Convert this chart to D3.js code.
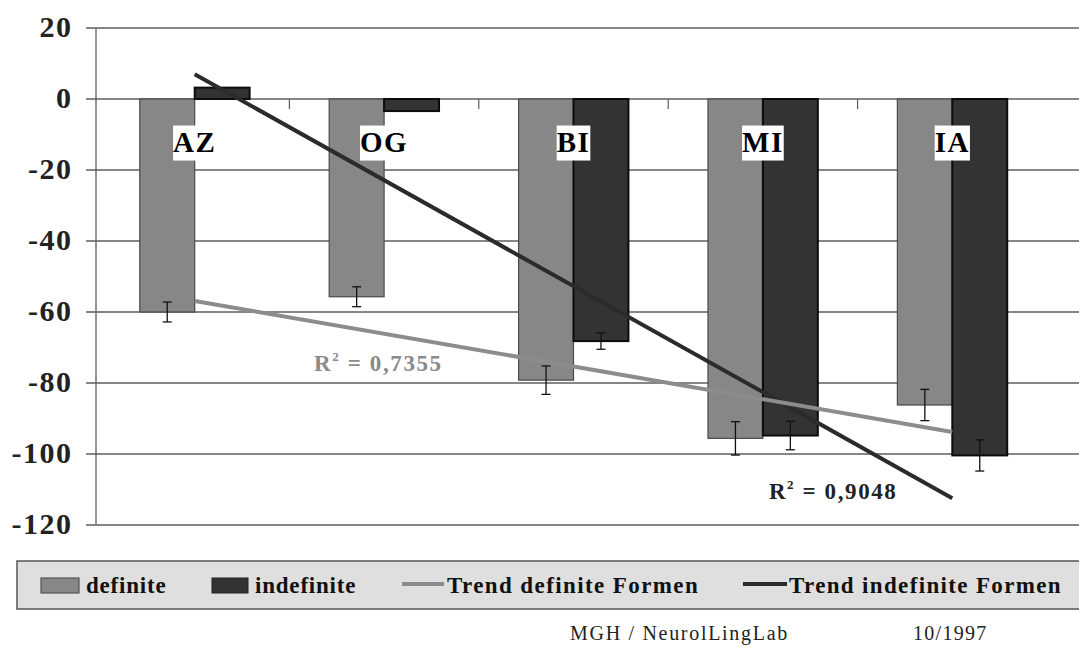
<!DOCTYPE html>
<html>
<head>
<meta charset="utf-8">
<script src="https://cdn.jsdelivr.net/npm/d3@7"></script>
<style>
  html, body { margin: 0; padding: 0; background: #fff; }
  svg { display: block; }
</style>
</head>
<body>
<svg id="chart" width="1079" height="647"></svg>
<script>
// Speaker groups and mean values per form
const categories = ["AZ", "OG", "BI", "MI", "IA"];
const definite = [-60, -55.7, -79.2, -95.6, -86.2];
const indefinite = [3.2, -3.4, -68.2, -94.8, -100.4];
const definiteErr = [2.8, 2.8, 4.0, 4.7, 4.4];
const indefiniteErr = [null, null, 2.3, 4.0, 4.4];
const yTicks = [20, 0, -20, -40, -60, -80, -100, -120];
const seriesNames = ["definite", "indefinite"];
const trendNames = ["Trend definite Formen", "Trend indefinite Formen"];
const r2Values = ["0,7355", "0,9048"];
const footerText = ["MGH / NeurolLingLab", "10/1997"];

const FONT = '"Liberation Serif", serif';
const colDef = "#878787", colIndef = "#333333";
const colTrendDef = "#8c8c8c", colTrendIndef = "#2b2b2b";

const svg = d3.select("#chart");
const W = 1079;
const axisX = 96;

const y = d3.scaleLinear().domain([-120, 20]).range([525, 28]);
const x = d3.scaleBand().domain(categories).range([100, 1047])
  .paddingInner(0.42).paddingOuter(0.21);
const xs = d3.scaleBand().domain(seriesNames).range([0, x.bandwidth()]);

const txt = (sel, size, bold, ls) => sel
  .style("font-family", FONT)
  .style("font-size", size + "px")
  .style("font-weight", bold ? "bold" : "normal")
  .style("letter-spacing", ls + "px");

// gridlines
svg.append("g").selectAll("line").data(yTicks).join("line")
  .attr("x1", axisX - 10).attr("x2", W)
  .attr("y1", d => y(d)).attr("y2", d => y(d))
  .attr("stroke", "#5e5e5e").attr("stroke-width", 1.3);

// y axis line
svg.append("line").attr("x1", axisX).attr("x2", axisX)
  .attr("y1", y(20)).attr("y2", y(-120))
  .attr("stroke", "#5e5e5e").attr("stroke-width", 1.3);

// y tick labels
svg.append("g").selectAll("text").data(yTicks).join("text")
  .attr("x", 72.5).attr("y", d => y(d) + 9)
  .attr("text-anchor", "end")
  .call(txt, 30, true, 1.5)
  .attr("fill", "#222")
  .text(d => d);

// category boundary ticks on the zero line
const bounds = categories.slice(1).map(c => x(c) - x.step() * x.paddingInner() / 2);
svg.append("g").selectAll("line").data(bounds).join("line")
  .attr("x1", d => d).attr("x2", d => d)
  .attr("y1", y(0)).attr("y2", y(0) + 10)
  .attr("stroke", "#5e5e5e").attr("stroke-width", 1.2);

// bars
const rows = categories.map((c, i) => ({
  c, vals: [
    { s: "definite", v: definite[i], e: definiteErr[i] },
    { s: "indefinite", v: indefinite[i], e: indefiniteErr[i] }
  ]
}));

const groups = svg.append("g").selectAll("g").data(rows).join("g")
  .attr("transform", d => `translate(${x(d.c)},0)`);

groups.selectAll("rect").data(d => d.vals).join("rect")
  .attr("x", d => xs(d.s))
  .attr("width", xs.bandwidth())
  .attr("y", d => y(Math.max(0, d.v)))
  .attr("height", d => Math.abs(y(d.v) - y(0)))
  .attr("fill", d => d.s === "definite" ? colDef : colIndef)
  .attr("stroke", d => d.s === "definite" ? "#4a4a4a" : "#0c0c0c")
  .attr("stroke-width", d => d.s === "definite" ? 1.2 : 2);

// error bars
const errG = groups.selectAll("g.err").data(d => d.vals.filter(v => v.e != null)).join("g")
  .attr("class", "err")
  .attr("transform", d => `translate(${xs(d.s) + xs.bandwidth() / 2},0)`);
errG.append("line").attr("x1", 0).attr("x2", 0)
  .attr("y1", d => y(d.v + d.e)).attr("y2", d => y(d.v - d.e));
errG.append("line").attr("x1", -4.5).attr("x2", 4.5)
  .attr("y1", d => y(d.v + d.e)).attr("y2", d => y(d.v + d.e));
errG.append("line").attr("x1", -4.5).attr("x2", 4.5)
  .attr("y1", d => y(d.v - d.e)).attr("y2", d => y(d.v - d.e));
errG.selectAll("line").attr("stroke", "#111").attr("stroke-width", 1.3);

// linear trend (least squares on category index)
function fit(vals) {
  const n = vals.length, idx = d3.range(n);
  const mx = d3.mean(idx), my = d3.mean(vals);
  const b = d3.sum(idx, i => (i - mx) * (vals[i] - my)) / d3.sum(idx, i => (i - mx) ** 2);
  const a = my - b * mx;
  return i => a + b * i;
}
const cx = c => x(c) + x.bandwidth() / 2;
const n = categories.length;
const trends = [
  { f: fit(definite), color: colTrendDef },
  { f: fit(indefinite), color: colTrendIndef }
];
// indefinite trend first, definite drawn over it
[trends[1], trends[0]].forEach(t => {
  svg.append("line")
    .attr("x1", cx(categories[0])).attr("y1", y(t.f(0)))
    .attr("x2", cx(categories[n - 1])).attr("y2", y(t.f(n - 1)))
    .attr("stroke", t.color).attr("stroke-width", 4);
});

// category labels in white boxes
const labG = svg.append("g").selectAll("g").data(categories).join("g");
labG.each(function (c) {
  const g = d3.select(this);
  const t = g.append("text")
    .attr("x", cx(c)).attr("y", y(-14.8))
    .attr("text-anchor", "middle")
    .call(txt, 29, true, 1.5)
    .attr("fill", "#000").text(c);
  const bb = t.node().getBBox();
  g.insert("rect", "text")
    .attr("x", bb.x).attr("y", bb.y)
    .attr("width", bb.width).attr("height", bb.height + 3)
    .attr("fill", "#fff");
});

// R² annotations
function r2(xPos, yVal, val, color) {
  const t = svg.append("text")
    .attr("x", xPos).attr("y", y(yVal))
    .call(txt, 23, true, 1.6)
    .attr("fill", color);
  t.append("tspan").text("R");
  t.append("tspan").style("font-size", "13px").attr("dy", -10).text("2");
  t.append("tspan").attr("dy", 10).text(" = " + val);
}
r2(cx("OG") - 70, -76.6, r2Values[0], "#8a8a8a");
r2(cx("MI") + 6, -112.8, r2Values[1], "#222");

// legend
const lg = svg.append("g");
lg.append("rect").attr("x", 17).attr("y", 561).attr("width", W).attr("height", 48)
  .attr("fill", "#dfdfdf").attr("stroke", "#555").attr("stroke-width", 1.5);
const legendFont = (sel, ls) => sel.call(txt, 23, true, ls).attr("fill", "#111");
lg.append("rect").attr("x", 41).attr("y", 578).attr("width", 38).attr("height", 15)
  .attr("fill", colDef).attr("stroke", "#555").attr("stroke-width", 1.2);
lg.append("text").attr("x", 86).attr("y", 593).text(seriesNames[0]).call(legendFont, 0.8);
lg.append("rect").attr("x", 212).attr("y", 578).attr("width", 36).attr("height", 15)
  .attr("fill", colIndef).attr("stroke", "#222").attr("stroke-width", 1);
lg.append("text").attr("x", 255).attr("y", 593).text(seriesNames[1]).call(legendFont, 0.8);
lg.append("line").attr("x1", 402).attr("x2", 444).attr("y1", 584).attr("y2", 584)
  .attr("stroke", colTrendDef).attr("stroke-width", 4);
lg.append("text").attr("x", 447).attr("y", 593).text(trendNames[0]).call(legendFont, 1.4);
lg.append("line").attr("x1", 743).attr("x2", 787).attr("y1", 584).attr("y2", 584)
  .attr("stroke", colTrendIndef).attr("stroke-width", 4);
lg.append("text").attr("x", 789).attr("y", 593).text(trendNames[1]).call(legendFont, 1.35);

// footer
svg.append("text").attr("x", 570).attr("y", 640)
  .call(txt, 20, false, 1.7).attr("fill", "#222").text(footerText[0]);
svg.append("text").attr("x", 913).attr("y", 640)
  .call(txt, 20, false, 1.3).attr("fill", "#222").text(footerText[1]);
</script>
</body>
</html>
